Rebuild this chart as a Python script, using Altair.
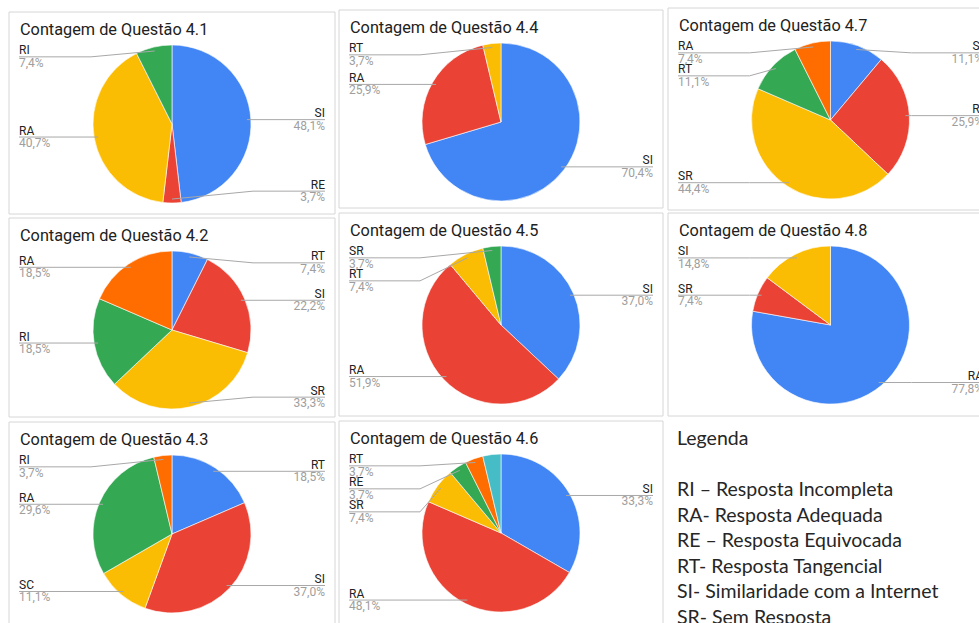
import math

import altair as alt
import pandas as pd

# Answer shares (%) per question, listed clockwise from 12 o'clock
questions = ["4.1", "4.4", "4.7", "4.2", "4.5", "4.8", "4.3", "4.6"]

cats_41 = ["SI", "RE", "RA", "RI"]
vals_41 = [48.1, 3.7, 40.7, 7.4]

cats_42 = ["RT", "SI", "SR", "RI", "RA"]
vals_42 = [7.4, 22.2, 33.3, 18.5, 18.5]

cats_43 = ["RT", "SI", "SC", "RA", "RI"]
vals_43 = [18.5, 37.0, 11.1, 29.6, 3.7]

cats_44 = ["SI", "RA", "RT"]
vals_44 = [70.4, 25.9, 3.7]

cats_45 = ["SI", "RA", "RT", "SR"]
vals_45 = [37.0, 51.9, 7.4, 3.7]

cats_46 = ["SI", "RA", "SR", "RE", "RT", ""]
vals_46 = [33.3, 48.1, 7.4, 3.7, 3.7, 3.7]

cats_47 = ["SI", "RI", "SR", "RT", "RA"]
vals_47 = [11.1, 25.9, 44.4, 11.1, 7.4]

cats_48 = ["RA", "SR", "SI"]
vals_48 = [77.8, 7.4, 14.8]

series = {
    "4.1": (cats_41, vals_41), "4.2": (cats_42, vals_42), "4.3": (cats_43, vals_43),
    "4.4": (cats_44, vals_44), "4.5": (cats_45, vals_45), "4.6": (cats_46, vals_46),
    "4.7": (cats_47, vals_47), "4.8": (cats_48, vals_48),
}

legend_lines = [
    "Legenda",
    "",
    "RI \u2013 Resposta Incompleta",
    "RA- Resposta Adequada",
    "RE \u2013 Resposta Equivocada",
    "RT- Resposta Tangencial",
    "SI- Similaridade com a Internet",
    "SR- Sem Resposta",
]

slice_colors = ["#4285F4", "#EA4335", "#FBBC04", "#34A853", "#FF6D01", "#46BDC6"]

# Layout: panel boxes (left, top, right, bottom) in page pixels
W, H = 979, 623
boxes = {
    "4.1": (9, 12, 335, 214), "4.4": (339, 10, 663, 208), "4.7": (668, 8, 993, 210),
    "4.2": (9, 218, 335, 417), "4.5": (339, 213, 663, 416), "4.8": (668, 213, 993, 416),
    "4.3": (9, 422, 335, 650), "4.6": (339, 421, 663, 650),
}
R = 79          # pie radius
ANCHOR = 0.95   # leader-line anchor, fraction of radius
CLAMP = 0.85    # label rows stay within +-CLAMP*R of the centre
GAP = 23        # min vertical distance between stacked labels

arc_rows, line_rows, text_rows, box_rows, title_rows = [], [], [], [], []
for q in questions:
    left, top, right, bottom = boxes[q]
    box_rows.append(dict(x=left, x2=right, y=top, y2=bottom))
    title_rows.append(dict(x=left + 11, y=top + 23, t=f"Contagem de Quest\u00e3o {q}"))
    cx, cy = (left + right) / 2, top + 112
    cats, vals = series[q]
    total = sum(vals)
    cum = 0.0
    labels = []
    for i, (c, v) in enumerate(zip(cats, vals)):
        a0, a1 = cum / total, (cum + v) / total
        cum += v
        arc_rows.append(dict(cx=cx, cy=cy, a0=a0, a1=a1, ci=i))
        if not c:
            continue
        mid = (a0 + a1) / 2 * 2 * math.pi
        px = cx + ANCHOR * R * math.sin(mid)
        py = cy - ANCHOR * R * math.cos(mid)
        side = "right" if math.sin(mid) > 0 else "left"
        pct = f"{v:.1f}".replace(".", ",") + "%"
        labels.append(dict(c=c, pct=pct, px=px, py=py, side=side))
    for side in ("left", "right"):
        prev = -1e9
        for k, lab in enumerate(sorted((l for l in labels if l["side"] == side), key=lambda d: d["py"])):
            ly = min(max(lab["py"], cy - CLAMP * R), cy + CLAMP * R)
            ly = max(ly, prev + GAP)
            prev = ly
            if side == "left":
                x0, kink = left + 10, cx - R - 2
            else:
                x0, kink = right - 10, cx + R + 2
            lid = f"{q}-{lab['c']}-{k}"
            line_rows += [
                dict(id=lid, s=0, x=x0, y=ly),
                dict(id=lid, s=1, x=kink, y=ly),
                dict(id=lid, s=2, x=lab["px"], y=lab["py"]),
            ]
            text_rows.append(dict(side=side, kind="name", x=x0, y=ly - 2.5, t=lab["c"]))
            text_rows.append(dict(side=side, kind="pct", x=x0, y=ly + 10, t=lab["pct"]))

legend_rows = [dict(x=677, y=445 + i * 25.5, t=s) for i, s in enumerate(legend_lines)]

xs = alt.Scale(domain=[0, W], nice=False, zero=False)
ys = alt.Scale(domain=[0, H], nice=False, zero=False, reverse=True)


def X(f):
    return alt.X(f, type="quantitative", scale=xs, axis=None)


def Y(f):
    return alt.Y(f, type="quantitative", scale=ys, axis=None)


panels = alt.Chart(pd.DataFrame(box_rows)).mark_rect(
    fill="white", stroke="#d6d6d6", strokeWidth=1, clip=True
).encode(x=X("x"), x2="x2", y=Y("y"), y2="y2")

titles = alt.Chart(pd.DataFrame(title_rows)).mark_text(
    align="left", baseline="alphabetic", font="Roboto", fontSize=16.3, color="#212121", clip=True
).encode(x=X("x"), y=Y("y"), text="t:N")

pies = alt.Chart(pd.DataFrame(arc_rows)).mark_arc(
    outerRadius=R, stroke="white", strokeWidth=0.6, clip=True
).encode(
    x=X("cx"),
    y=Y("cy"),
    theta=alt.Theta("a0:Q", stack=None, scale=alt.Scale(domain=[0, 1], range=[0, 2 * math.pi])),
    theta2="a1:Q",
    color=alt.Color("ci:O", scale=alt.Scale(domain=list(range(6)), range=slice_colors), legend=None),
)

leaders = alt.Chart(pd.DataFrame(line_rows)).mark_line(
    color="#a8a8a8", strokeWidth=1, clip=True
).encode(x=X("x"), y=Y("y"), detail="id:N", order="s:Q")

tdf = pd.DataFrame(text_rows)


def label_layer(side, kind, color):
    return alt.Chart(tdf).transform_filter(
        (alt.datum.side == side) & (alt.datum.kind == kind)
    ).mark_text(
        align=side, baseline="alphabetic", font="Roboto", fontSize=12, color=color, clip=True
    ).encode(x=X("x"), y=Y("y"), text="t:N")


legend = alt.Chart(pd.DataFrame(legend_rows)).mark_text(
    align="left", baseline="alphabetic", font="Lato", fontSize=19.5, color="#262626", clip=True
).encode(x=X("x"), y=Y("y"), text="t:N")

chart = alt.layer(
    panels, pies, leaders, titles,
    label_layer("left", "name", "#222222"), label_layer("left", "pct", "#9e9e9e"),
    label_layer("right", "name", "#222222"), label_layer("right", "pct", "#9e9e9e"),
    legend,
).properties(
    width=W, height=H, padding=0, background="white",
    autosize=alt.AutoSizeParams(type="none"),
).configure_view(stroke=None)

chart.save("out.html", embed_options={"renderer": "svg", "actions": False})
